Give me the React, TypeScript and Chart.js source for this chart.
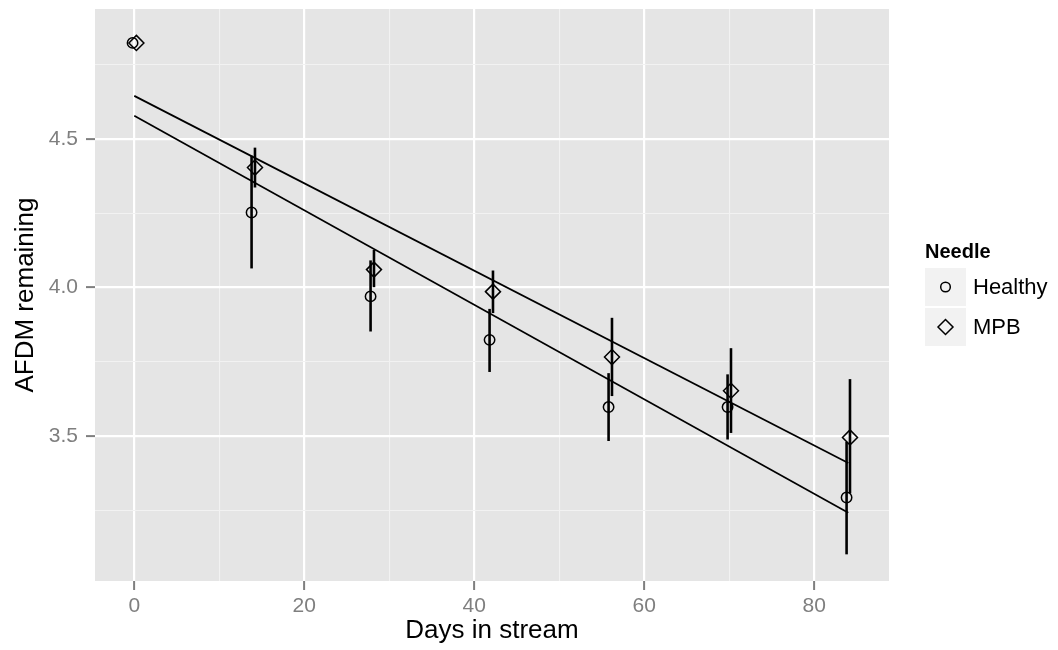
import React, { useEffect, useRef } from 'react';
import { Chart, registerables } from 'chart.js';
Chart.register(...registerables);

const seriesNames = ['Healthy', 'MPB'];
const legendTitle = 'Needle';
const xTitle = 'Days in stream';
const yTitle = 'AFDM remaining';

const healthyDays = [-0.2, 13.8, 27.8, 41.8, 55.8, 69.8, 83.8];
const healthyAFDM = [4.822, 4.252, 3.97, 3.824, 3.598, 3.598, 3.294];
const healthyLow = [4.822, 4.064, 3.852, 3.716, 3.484, 3.489, 3.103];
const healthyHigh = [4.822, 4.443, 4.091, 3.928, 3.712, 3.708, 3.481];

const mpbDays = [0.25, 14.2, 28.2, 42.2, 56.2, 70.2, 84.2];
const mpbAFDM = [4.822, 4.403, 4.06, 3.986, 3.766, 3.653, 3.496];
const mpbLow = [4.822, 4.336, 4.001, 3.914, 3.635, 3.511, 3.308];
const mpbHigh = [4.822, 4.47, 4.126, 4.057, 3.898, 3.796, 3.692];

const fitDays = [0, 84];
const healthyFit = [4.577, 3.243];
const mpbFit = [4.644, 3.41];

const xMajorTicks = [0, 20, 40, 60, 80];
const xMinorTicks = [10, 30, 50, 70];
const yMajorTicks = [3.5, 4.0, 4.5];
const yMinorTicks = [3.25, 3.75, 4.25, 4.75];

const FONT = '"Liberation Sans", Arial, Helvetica, sans-serif';

const toXY = (xs: number[], ys: number[]) => xs.map((x, i) => ({ x, y: ys[i] }));

const bgPlugin = {
  id: 'panelBg',
  beforeDraw(chart: any) {
    const { ctx, chartArea } = chart;
    ctx.save();
    ctx.fillStyle = '#E5E5E5';
    ctx.fillRect(chartArea.left, chartArea.top, chartArea.right - chartArea.left, chartArea.bottom - chartArea.top);
    ctx.restore();
  },
};

const errorBarPlugin = {
  id: 'errorBars',
  afterDatasetsDraw(chart: any) {
    const { ctx, scales } = chart;
    const xs = scales.x;
    const ys = scales.y;
    const groups = [
      [healthyDays, healthyLow, healthyHigh],
      [mpbDays, mpbLow, mpbHigh],
    ];
    ctx.save();
    ctx.strokeStyle = '#000000';
    ctx.lineWidth = 2.6;
    ctx.lineCap = 'butt';
    groups.forEach(([d, lo, hi]) => {
      d.forEach((day, i) => {
        if (lo[i] === hi[i]) return;
        const px = xs.getPixelForValue(day);
        ctx.beginPath();
        ctx.moveTo(px, ys.getPixelForValue(lo[i]));
        ctx.lineTo(px, ys.getPixelForValue(hi[i]));
        ctx.stroke();
      });
    });
    ctx.restore();
  },
};

const legendPlugin = {
  id: 'ggLegend',
  afterDraw(chart: any) {
    const { ctx } = chart;
    const left = 925;
    ctx.save();
    ctx.fillStyle = '#000000';
    ctx.font = `bold 20px ${FONT}`;
    ctx.textAlign = 'left';
    ctx.textBaseline = 'alphabetic';
    ctx.fillText(legendTitle, left, 258);
    seriesNames.forEach((name, i) => {
      const top = 268 + i * 40;
      ctx.fillStyle = '#F2F2F2';
      ctx.fillRect(left, top, 41, 38);
      const cx = left + 20.5;
      const cy = top + 19;
      ctx.strokeStyle = '#000000';
      ctx.lineWidth = 1.5;
      ctx.beginPath();
      if (i === 0) {
        ctx.arc(cx, cy, 4.8, 0, Math.PI * 2);
      } else {
        const r = 7.5;
        ctx.moveTo(cx - r, cy);
        ctx.lineTo(cx, cy - r);
        ctx.lineTo(cx + r, cy);
        ctx.lineTo(cx, cy + r);
        ctx.closePath();
      }
      ctx.stroke();
      ctx.fillStyle = '#000000';
      ctx.font = `22px ${FONT}`;
      ctx.textBaseline = 'middle';
      ctx.fillText(name, left + 48, cy + 1);
    });
    ctx.restore();
  },
};

export default function App() {
  const ref = useRef<HTMLCanvasElement | null>(null);
  useEffect(() => {
    if (!ref.current) return;
    const isMajorX = (v: number) => xMajorTicks.includes(v);
    const isMajorY = (v: number) => yMajorTicks.some((t) => Math.abs(t - v) < 1e-9);
    const chart = new Chart(ref.current, {
      type: 'scatter',
      data: {
        datasets: [
          {
            type: 'line',
            label: 'Healthy fit',
            data: toXY(fitDays, healthyFit),
            borderColor: '#000000',
            borderWidth: 1.7,
            pointRadius: 0,
            fill: false,
            order: 3,
          } as any,
          {
            type: 'line',
            label: 'MPB fit',
            data: toXY(fitDays, mpbFit),
            borderColor: '#000000',
            borderWidth: 1.7,
            pointRadius: 0,
            fill: false,
            order: 3,
          } as any,
          {
            label: seriesNames[0],
            data: toXY(healthyDays, healthyAFDM),
            pointStyle: 'circle',
            pointRadius: 5.2,
            borderWidth: 1.5,
            borderColor: '#000000',
            backgroundColor: 'rgba(0,0,0,0)',
            order: 1,
          },
          {
            label: seriesNames[1],
            data: toXY(mpbDays, mpbAFDM),
            pointStyle: 'rectRot',
            pointRadius: 7.5,
            borderWidth: 1.5,
            borderColor: '#000000',
            backgroundColor: 'rgba(0,0,0,0)',
            order: 1,
          },
        ],
      },
      options: {
        responsive: false,
        animation: false,
        devicePixelRatio: 1,
        events: [],
        layout: { padding: { left: 0, top: 8, right: 169, bottom: 0 } },
        plugins: {
          legend: { display: false },
          tooltip: { enabled: false },
        },
        scales: {
          x: {
            type: 'linear',
            min: -4.62,
            max: 88.79,
            afterBuildTicks: (scale: any) => {
              scale.ticks = [...xMajorTicks, ...xMinorTicks].sort((a, b) => a - b).map((v) => ({ value: v }));
            },
            afterFit: (scale: any) => {
              scale.height = 69;
              scale.paddingLeft = 0;
              scale.paddingRight = 0;
              scale.paddingTop = 0;
              scale.paddingBottom = 0;
            },
            border: { display: false },
            grid: {
              color: (c: any) => (isMajorX(c.tick?.value) ? '#FFFFFF' : '#F2F2F2'),
              lineWidth: (c: any) => (isMajorX(c.tick?.value) ? 2.2 : 1.1),
              tickColor: (c: any) => (isMajorX(c.tick?.value) ? '#7F7F7F' : 'rgba(0,0,0,0)'),
              tickWidth: 2,
              tickLength: 9,
              drawTicks: true,
            },
            ticks: {
              autoSkip: false,
              maxRotation: 0,
              padding: 4,
              color: '#7F7F7F',
              font: { family: FONT, size: 21 },
              callback: (v: any) => (xMajorTicks.includes(Number(v)) ? String(v) : ''),
            },
            title: {
              display: true,
              text: xTitle,
              color: '#000000',
              font: { family: FONT, size: 26 },
              padding: { top: 0, bottom: 4 },
            },
          },
          y: {
            type: 'linear',
            min: 3.0134,
            max: 4.936,
            afterBuildTicks: (scale: any) => {
              scale.ticks = [...yMajorTicks, ...yMinorTicks].sort((a, b) => a - b).map((v) => ({ value: v }));
            },
            afterFit: (scale: any) => {
              scale.width = 95;
              scale.paddingLeft = 0;
              scale.paddingRight = 0;
              scale.paddingTop = 0;
              scale.paddingBottom = 0;
            },
            border: { display: false },
            grid: {
              color: (c: any) => (isMajorY(c.tick?.value) ? '#FFFFFF' : '#F2F2F2'),
              lineWidth: (c: any) => (isMajorY(c.tick?.value) ? 2.2 : 1.1),
              tickColor: (c: any) => (isMajorY(c.tick?.value) ? '#7F7F7F' : 'rgba(0,0,0,0)'),
              tickWidth: 2,
              tickLength: 9,
              drawTicks: true,
            },
            ticks: {
              autoSkip: false,
              padding: 8,
              color: '#7F7F7F',
              font: { family: FONT, size: 21 },
              callback: (v: any) => (isMajorY(Number(v)) ? Number(v).toFixed(1) : ''),
            },
            title: {
              display: true,
              text: yTitle,
              color: '#000000',
              font: { family: FONT, size: 26 },
              padding: { top: 10, bottom: 0 },
            },
          },
        },
      },
      plugins: [bgPlugin, errorBarPlugin, legendPlugin],
    });
    return () => chart.destroy();
  }, []);

  return (
    <div style={{ position: 'absolute', left: 0, top: 0, width: 1058, height: 650, background: '#FFFFFF' }}>
      <canvas ref={ref} width={1058} height={650} style={{ width: 1058, height: 650, display: 'block' }} />
    </div>
  );
}
